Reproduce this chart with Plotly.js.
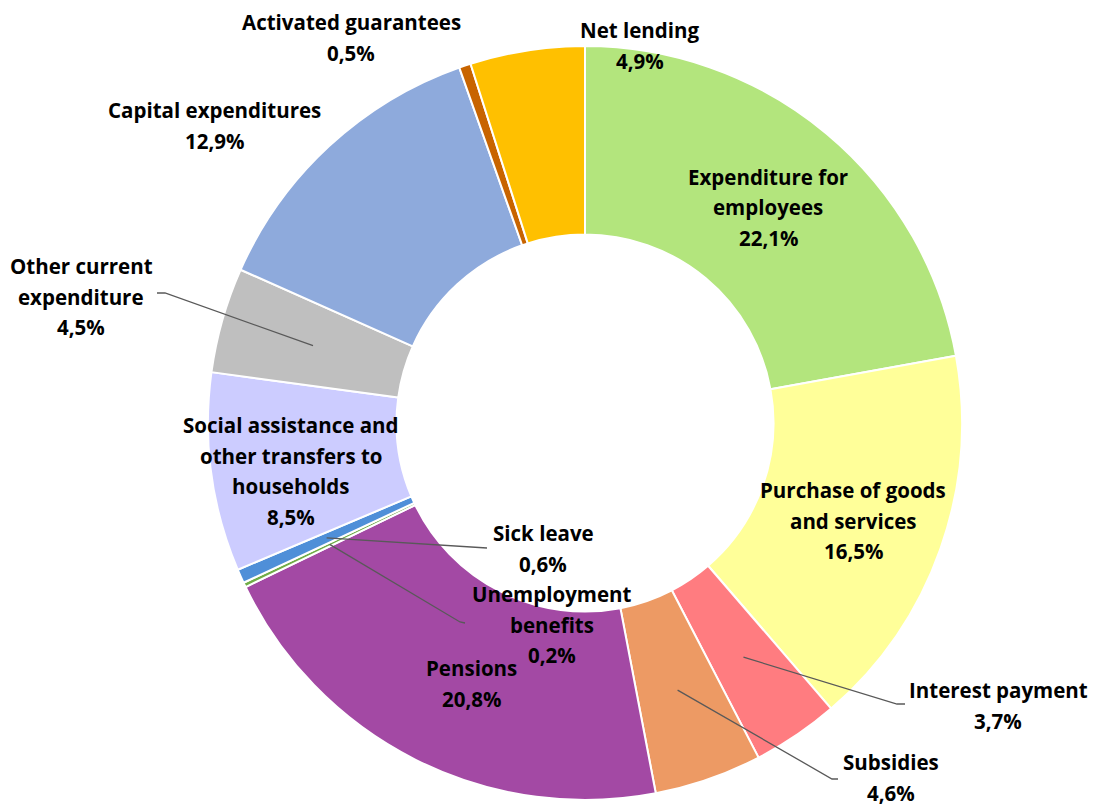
<!DOCTYPE html>
<html>
<head>
<meta charset="utf-8">
<script src="https://cdn.plot.ly/plotly-3.0.1.min.js"></script>
<style>html,body{margin:0;padding:0;background:#fff;}#chart{width:1093px;height:807px;}</style>
</head>
<body>
<div id="chart"></div>
<script>
// ---- data ----
const categories = [
  "Expenditure for employees",
  "Purchase of goods and services",
  "Interest payment",
  "Subsidies",
  "Pensions",
  "Unemployment benefits",
  "Sick leave",
  "Social assistance and other transfers to households",
  "Other current expenditure",
  "Capital expenditures",
  "Activated guarantees",
  "Net lending"
];
const values = [22.1, 16.5, 3.7, 4.6, 20.8, 0.2, 0.6, 8.5, 4.5, 12.9, 0.5, 4.9];
const colors = ["#b3e57d", "#ffff99", "#ff7c80", "#ed9a64", "#a349a4", "#70ad47",
                "#4f8fd8", "#ccccff", "#bfbfbf", "#8eaadc", "#c86400", "#ffc000"];
// label line breaks for each category
const labelLines = [
  ["Expenditure for", "employees"],
  ["Purchase of goods", "and services"],
  ["Interest payment"],
  ["Subsidies"],
  ["Pensions"],
  ["Unemployment", "benefits"],
  ["Sick leave"],
  ["Social assistance and", "other transfers to", "households"],
  ["Other current", "expenditure"],
  ["Capital expenditures"],
  ["Activated guarantees"],
  ["Net lending"]
];

// ---- layout (pixels) ----
const W = 1093, H = 807;
const CX = 585, CY = 423, R = 377, HOLE = 0.5;
const LINE = 30.5;
// label block: center x, first line center y, leader end points
const labelPos = [
  {x: 768, y: 177},
  {x: 853, y: 490},
  {x: 998, y: 690, lead: [[897, 704], [905, 704]]},
  {x: 891, y: 762, lead: [[832, 779], [838, 779]]},
  {x: 471, y: 668},
  {x: 552, y: 594, lead: [[460, 622], [465, 623]]},
  {x: 543, y: 533, lead: [[487, 548]]},
  {x: 291, y: 425},
  {x: 81,  y: 266, lead: [[165, 293], [157, 293]]},
  {x: 214, y: 110},
  {x: 351, y: 22},
  {x: 640, y: 30}
];

const px = x => x / W;
const py = y => 1 - y / H;
const fmt = v => v.toFixed(1).replace('.', ',') + '%';
const font = {family: "'Open Sans', sans-serif", size: 20.5, color: "#000"};

const annotations = [];
const shapes = [];
const total = values.reduce((a, b) => a + b, 0);
let cum = 0;
values.forEach((v, i) => {
  const mid = (cum + v / 2) / total * 2 * Math.PI;
  cum += v;
  const p = labelPos[i];
  const lines = labelLines[i].concat([fmt(v)]);
  lines.forEach((t, k) => {
    annotations.push({
      xref: 'paper', yref: 'paper', x: px(p.x), y: py(p.y + k * LINE),
      xanchor: 'center', yanchor: 'middle', showarrow: false, borderpad: 0,
      text: '<b>' + t + '</b>', font: font
    });
  });
  if (p.lead) {
    const rm = R * (1 + HOLE) / 2;
    const ax = CX + rm * Math.sin(mid), ay = CY - rm * Math.cos(mid);
    let path = 'M ' + px(ax) + ' ' + py(ay);
    p.lead.forEach(pt => { path += ' L ' + px(pt[0]) + ' ' + py(pt[1]); });
    shapes.push({type: 'path', xref: 'paper', yref: 'paper', path: path,
                 line: {color: '#595959', width: 1.3}});
  }
});

const trace = {
  type: 'pie',
  labels: categories,
  values: values,
  sort: false,
  direction: 'clockwise',
  rotation: 0,
  hole: HOLE,
  textinfo: 'none',
  hoverinfo: 'label+percent',
  marker: {colors: colors, line: {color: '#ffffff', width: 2}},
  domain: {x: [px(CX - R), px(CX + R)], y: [py(CY + R), py(CY - R)]},
  showlegend: false
};

const layout = {
  width: W, height: H,
  margin: {l: 0, r: 0, t: 0, b: 0},
  paper_bgcolor: '#ffffff',
  showlegend: false,
  annotations: annotations,
  shapes: shapes
};

Plotly.newPlot('chart', [trace], layout, {displayModeBar: false, staticPlot: true});
</script>
</body>
</html>
